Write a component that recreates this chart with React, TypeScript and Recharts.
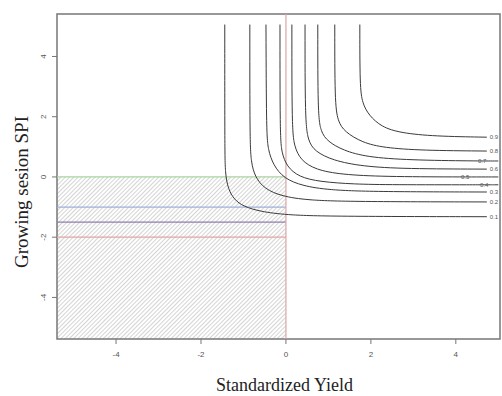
import { LineChart, Line, XAxis, YAxis, ReferenceArea, ReferenceLine, LabelList, Label } from 'recharts'

// contour levels and their curves (Standardized Yield, SPI)
const levels = ['0.1', '0.2', '0.3', '0.4', '0.5', '0.6', '0.7', '0.8', '0.9']

const c01 = [[-1.44, 5.06], [-1.44, 1.0], [-1.43, 0.1], [-1.36, -0.4], [-1.22, -0.75], [-1.0, -0.98], [-0.6, -1.15], [0, -1.26], [1, -1.31], [4.73, -1.32]]
const c02 = [[-0.85, 5.06], [-0.85, 1.2], [-0.82, 0.5], [-0.73, 0.0], [-0.5, -0.4], [-0.1, -0.64], [0.5, -0.77], [1.5, -0.82], [4.73, -0.83]]
const c03 = [[-0.47, 5.06], [-0.46, 1.5], [-0.42, 0.9], [-0.3, 0.4], [-0.05, -0.05], [0.4, -0.3], [1.0, -0.43], [2, -0.49], [4.73, -0.5]]
const c04 = [[-0.14, 5.06], [-0.14, 1.4], [-0.1, 0.8], [0.02, 0.35], [0.3, 0.0], [0.8, -0.16], [1.6, -0.24], [2.5, -0.26], [5.0, -0.26]]
const c05 = [[0.14, 5.06], [0.14, 1.6], [0.2, 1.0], [0.35, 0.55], [0.7, 0.24], [1.3, 0.08], [2.3, 0.01], [5.0, 0]]
const c06 = [[0.45, 5.06], [0.45, 1.9], [0.52, 1.2], [0.68, 0.85], [1.1, 0.55], [1.8, 0.35], [2.8, 0.27], [4.73, 0.26]]
const c07 = [[0.75, 5.06], [0.75, 2.1], [0.82, 1.5], [0.98, 1.18], [1.35, 0.88], [1.9, 0.66], [2.9, 0.56], [5.0, 0.53]]
const c08 = [[1.15, 5.06], [1.15, 2.5], [1.22, 1.85], [1.38, 1.5], [1.8, 1.14], [2.3, 0.97], [3.2, 0.88], [4.73, 0.86]]
const c09 = [[1.74, 5.06], [1.74, 3.0], [1.8, 2.45], [1.95, 2.05], [2.25, 1.66], [2.7, 1.46], [3.5, 1.35], [4.73, 1.32]]
const curves = [c01, c02, c03, c04, c05, c06, c07, c08, c09]

// where the label sits inside the line (null = at the end)
const labelX = [null, null, null, 4.5, 4.05, null, 4.45, null, null]

// SPI thresholds drawn left of zero
const thresholds = [0, -1, -1.5, -2]
const thresholdColors = ['#a9d3a0', '#9fb2d8', '#8f7fae', '#e2a4a4']

const xTicks = [-4, -2, 0, 2, 4]
const yTicks = [-4, -2, 0, 2, 4]
const xDomain = [-5.39, 5.04]
const yDomain = [-5.38, 5.41]

const serif = 'Liberation Serif, Times New Roman, serif'
const sans = 'Liberation Sans, Arial'

function buildData(pts: number[][], lab: string, lx: number | null) {
  const rows: { x: number; y: number; lab?: string; inline?: boolean }[] = pts.map(([x, y]) => ({ x, y }))
  if (lx == null) {
    rows[rows.length - 1].lab = lab
  } else {
    const last = rows[rows.length - 1]
    rows.splice(rows.length - 1, 0, { x: lx, y: last.y, lab, inline: true })
  }
  return rows
}

const renderLab = (props: any) => {
  const { x, y, value, index } = props
  if (!value) return null
  const isInline = props.inline || (props.payload && props.payload.inline)
  if (isInline) {
    return (
      <g key={`l-${index}`}>
        <rect x={x - 7} y={y - 4} width={14} height={8} fill="#fff" />
        <text x={x} y={y + 2} textAnchor="middle" fontSize={6} fill="#555" fontFamily={sans}>
          {value}
        </text>
      </g>
    )
  }
  return (
    <text key={`l-${index}`} x={x + 3} y={y + 2} fontSize={6} fill="#555" fontFamily={sans}>
      {value}
    </text>
  )
}

const YTick = ({ x, y, payload }: any) => (
  <text x={x} y={y} transform={`rotate(-90 ${x} ${y})`} textAnchor="middle" fontSize={8} fill="#555" fontFamily={sans}>
    {payload.value}
  </text>
)

const YTitle = () => (
  <text x={28} y={192} transform="rotate(-90 28 192)" textAnchor="middle" fontSize={19} fill="#222" fontFamily={serif}>
    Growing sesion SPI
  </text>
)

export default function App() {
  return (
    <div style={{ position: 'absolute', left: 0, top: 0, background: '#fff' }}>
      <LineChart width={502} height={396} margin={{ top: 14, right: 2, bottom: 0, left: 0 }}>
        <defs>
          <pattern id="hatch" width="3" height="3" patternUnits="userSpaceOnUse" patternTransform="rotate(45)">
            <line x1="0" y1="0" x2="0" y2="3" stroke="#a0a0a0" strokeWidth={0.9} />
          </pattern>
        </defs>
        <XAxis
          dataKey="x"
          type="number"
          domain={xDomain}
          ticks={xTicks}
          allowDataOverflow
          height={57}
          tickSize={5}
          tickMargin={7}
          axisLine={false}
          tickLine={{ stroke: '#777' }}
          tick={{ fontSize: 8, fill: '#555', fontFamily: sans }}
        >
          <Label
            value="Standardized Yield"
            position="insideBottom"
            offset={5}
            dx={6}
            style={{ fontSize: 18, fill: '#222', fontFamily: serif }}
          />
        </XAxis>
        <YAxis
          dataKey="y"
          type="number"
          domain={yDomain}
          ticks={yTicks}
          allowDataOverflow
          width={57}
          tickSize={5}
          tickMargin={6}
          axisLine={false}
          tickLine={{ stroke: '#777' }}
          tick={<YTick />}
        >
          <Label content={<YTitle />} />
        </YAxis>

        <ReferenceArea x1={xDomain[0]} x2={0} y1={yDomain[0]} y2={0} fill="url(#hatch)" fillOpacity={1} stroke="none" />

        {thresholds.map((t, i) => (
          <ReferenceLine
            key={t}
            segment={[{ x: xDomain[0], y: t }, { x: 0, y: t }]}
            stroke={thresholdColors[i]}
            strokeWidth={1.2}
          />
        ))}
        <ReferenceLine x={0} stroke="#dca6a6" strokeWidth={1.2} />

        {curves.map((pts, i) => (
          <Line
            key={levels[i]}
            data={buildData(pts, levels[i], labelX[i])}
            dataKey="y"
            type="basis"
            stroke="#3a3a3a"
            strokeWidth={1}
            dot={false}
            activeDot={false}
            isAnimationActive={false}
          >
            <LabelList dataKey="lab" content={renderLab} />
          </Line>
        ))}

        <ReferenceArea
          x1={xDomain[0]}
          x2={xDomain[1]}
          y1={yDomain[0]}
          y2={yDomain[1]}
          fill="none"
          stroke="#777"
          strokeWidth={1.5}
        />
      </LineChart>
    </div>
  )
}
